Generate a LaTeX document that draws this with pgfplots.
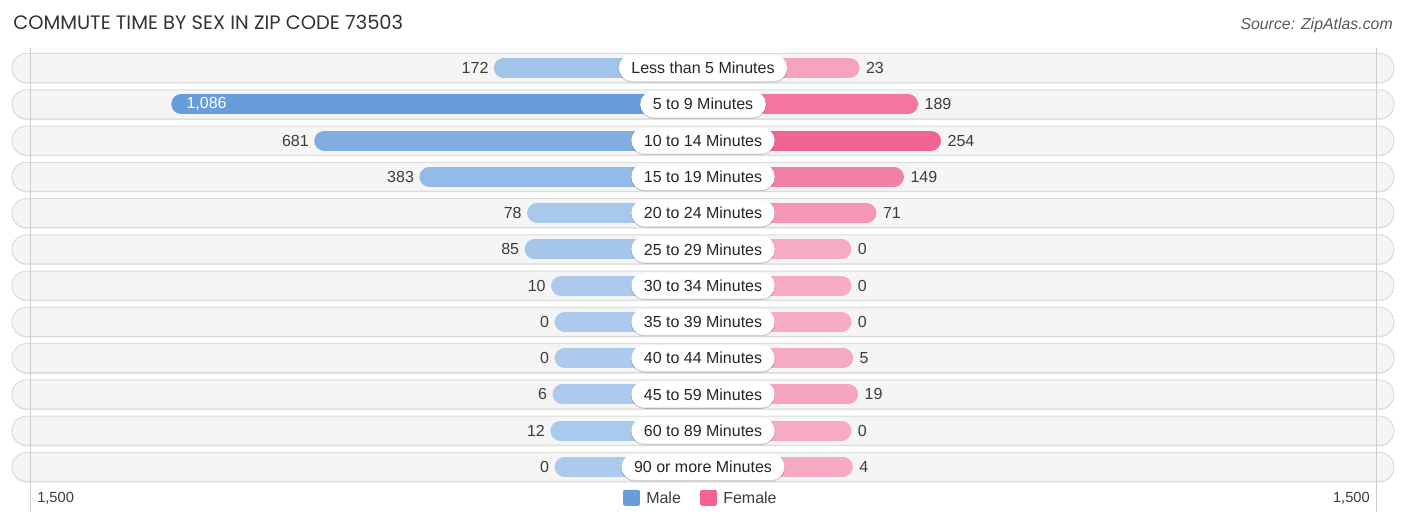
\documentclass[border=0pt]{standalone}
\usepackage{pgfplots}
\pgfplotsset{compat=1.18}
\usepackage{pgfplotstable}
\usepackage{fontspec}
\setmainfont{Liberation Sans}
\newfontfamily\titlefont{Poppins}
\usetikzlibrary{shadows}

\definecolor{male}{RGB}{102,157,218}
\definecolor{malelight}{RGB}{172,202,236}
\definecolor{female}{RGB}{241,100,145}
\definecolor{femalelight}{RGB}{246,170,195}
\definecolor{rowbg}{RGB}{245,245,245}
\definecolor{rowedge}{RGB}{220,220,220}
\definecolor{txt}{RGB}{60,60,60}

\pgfplotsset{
  colormap={malecm}{color=(malelight) color=(male)},
  colormap={femalecm}{color=(femalelight) color=(female)},
}

% row, category, male, female
\pgfplotstableread[col sep=comma]{
row,label,male,female
0,Less than 5 Minutes,172,23
1,5 to 9 Minutes,1086,189
2,10 to 14 Minutes,681,254
3,15 to 19 Minutes,383,149
4,20 to 24 Minutes,78,71
5,25 to 29 Minutes,85,0
6,30 to 34 Minutes,10,0
7,35 to 39 Minutes,0,0
8,40 to 44 Minutes,0,5
9,45 to 59 Minutes,6,19
10,60 to 89 Minutes,12,0
11,90 or more Minutes,0,4
}\commute

% 1 px of the reference = 0.75pt, 0.353 px per person, bars start 148.5 px from the centre
\begin{document}
\begin{tikzpicture}
\begin{axis}[
  scale only axis, width=1054.5pt, height=392.25pt,
  xmin=-1991.5, xmax=1991.5, ymin=-1.875, ymax=12.544, y dir=reverse,
  axis lines=none, clip=false,
  /pgf/number format/1000 sep={,},
  /pgf/number format/assume math mode=true,
  every node near coord/.append style={font=\fontsize{12}{14}\selectfont, text=txt},
]
\path (rel axis cs:0,0) rectangle (rel axis cs:1,1);
% row backgrounds
\pgfplotsinvokeforeach{0,...,11}{
  \fill[black!10, rounded corners=10.9pt] (axis cs:-1957.5,#1-0.37) rectangle (axis cs:1957.5,#1+0.43);
  \draw[rowedge, fill=rowbg, line width=0.75pt, rounded corners=10.9pt] (axis cs:-1957.5,#1-0.4) rectangle (axis cs:1957.5,#1+0.4);
}
\draw[black!20, line width=0.6pt] (axis cs:-1906.5,-0.55) -- (axis cs:-1906.5,12.25);
\draw[black!20, line width=0.6pt] (axis cs:1906.5,-0.55) -- (axis cs:1906.5,12.25);

% bars
\addplot[quiver={u=-\thisrow{male}-392, v=0, colored=mapped color},
  line width=15pt, line cap=round, colormap name=malecm,
  point meta=\thisrow{male}, point meta rel=per plot]
  table[x expr=0, y=row] {\commute};
\addplot[quiver={u=\thisrow{female}+392, v=0, colored=mapped color},
  line width=15pt, line cap=round, colormap name=femalecm,
  point meta=\thisrow{female}, point meta rel=per plot]
  table[x expr=0, y=row] {\commute};

% value labels
\addplot[only marks, mark=none, nodes near coords, point meta=\thisrow{male},
  nodes near coords style={anchor=east, xshift=-0.5pt},
  x filter/.expression={\coordindex==1 ? nan : x}]
  table[x expr=-\thisrow{male}-420.7, y=row] {\commute};
\addplot[only marks, mark=none, nodes near coords, point meta=\thisrow{male},
  nodes near coords style={anchor=west, xshift=8pt, text=white},
  x filter/.expression={\coordindex==1 ? x : nan}]
  table[x expr=-\thisrow{male}-420.7, y=row] {\commute};
\addplot[only marks, mark=none, nodes near coords, point meta=\thisrow{female},
  nodes near coords style={anchor=west, xshift=1.3pt}]
  table[x expr=\thisrow{female}+420.7, y=row] {\commute};

% category labels
\addplot[only marks, mark=none, nodes near coords, point meta=explicit symbolic,
  nodes near coords style={anchor=center, fill=white, rounded corners=9.75pt,
    inner xsep=9.4pt, inner ysep=0pt, minimum height=19.5pt, text=black!85,
    drop shadow={opacity=0.18, shadow xshift=0pt, shadow yshift=-0.8pt}}]
  table[x expr=0, y=row, meta=label] {\commute};

% title and source
\node[anchor=base west, inner sep=0pt, font=\titlefont\fontsize{14.6}{17}\selectfont, text=black!80]
  at (axis cs:-1954.7,-1.067) {COMMUTE TIME BY SEX IN ZIP CODE 73503};
\node[anchor=base east, inner sep=0pt, font=\itshape\fontsize{11.9}{14}\selectfont, text=black!65]
  at (axis cs:1954.7,-1.067) {Source: ZipAtlas.com};

% axis ends
\node[anchor=west, inner sep=0pt, font=\fontsize{11}{13}\selectfont, text=txt] at (axis cs:-1886.7,11.855) {1,500};
\node[anchor=east, inner sep=0pt, font=\fontsize{11}{13}\selectfont, text=txt] at (axis cs:1889.5,11.855) {1,500};

% legend
\fill[male, rounded corners=1.5pt] (axis cs:-226.6,11.63) rectangle (axis cs:-178.5,12.07);
\node[anchor=west, inner sep=0pt, font=\fontsize{12}{14}\selectfont, text=txt] at (axis cs:-161.5,11.855) {Male};
\fill[female, rounded corners=1.5pt] (axis cs:-8.5,11.63) rectangle (axis cs:39.7,12.07);
\node[anchor=west, inner sep=0pt, font=\fontsize{12}{14}\selectfont, text=txt] at (axis cs:56.7,11.855) {Female};
\end{axis}
\end{tikzpicture}
\end{document}
